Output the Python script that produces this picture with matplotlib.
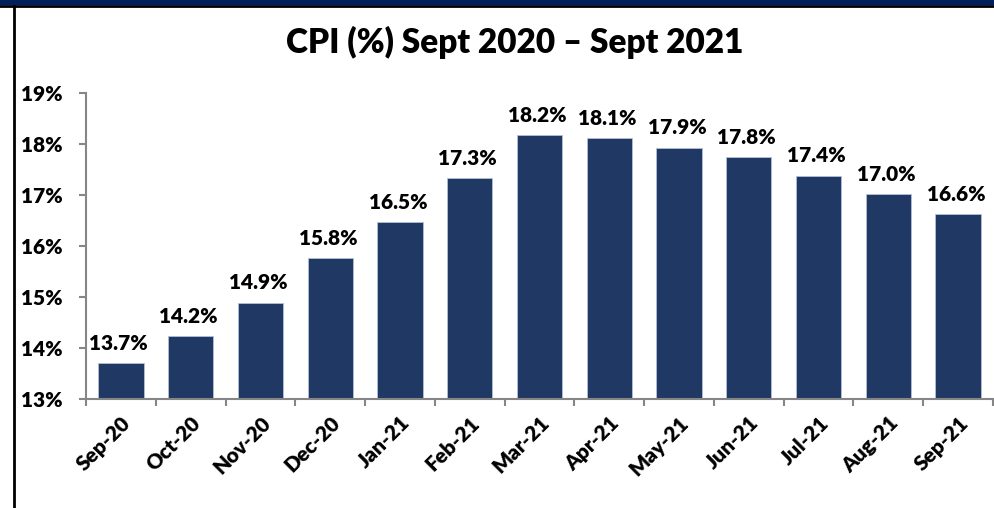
import matplotlib.pyplot as plt
from matplotlib.patches import Rectangle
from matplotlib.lines import Line2D
import numpy as np

months = ["Sep-20", "Oct-20", "Nov-20", "Dec-20", "Jan-21", "Feb-21", "Mar-21",
          "Apr-21", "May-21", "Jun-21", "Jul-21", "Aug-21", "Sep-21"]
cpi = [13.71, 14.23, 14.89, 15.76, 16.47, 17.33, 18.18,
       18.12, 17.93, 17.75, 17.38, 17.01, 16.63]
cpi_labels = ["13.7%", "14.2%", "14.9%", "15.8%", "16.5%", "17.3%", "18.2%",
              "18.1%", "17.9%", "17.8%", "17.4%", "17.0%", "16.6%"]
yticks = [13, 14, 15, 16, 17, 18, 19]

plt.rcParams['font.family'] = ['Lato', 'DejaVu Sans']
plt.rcParams['font.weight'] = 'bold'

W, H = 995, 508
fig = plt.figure(figsize=(W / 100, H / 100), dpi=100)
fig.patch.set_facecolor('white')

# frame bits
fig.patches.append(Rectangle((0, 1 - 5 / H), 1, 5 / H, transform=fig.transFigure,
                             facecolor='#001F5F', edgecolor='none'))
fig.lines.append(Line2D([0, 1], [1 - 6 / H, 1 - 6 / H], transform=fig.transFigure,
                        color='black', lw=2))
fig.lines.append(Line2D([14 / W, 14 / W], [0, 1 - 6 / H], transform=fig.transFigure,
                        color='black', lw=2))

ax = fig.add_axes([86 / W, 1 - 399 / H, (993 - 86) / W, (399 - 93) / H])
x = np.arange(len(months))
ax.bar(x, np.array(cpi) - 13, bottom=13, width=0.65, color='#203864',
       edgecolor='#B4C0D8', linewidth=0.6)
for xi, v, lab in zip(x, cpi, cpi_labels):
    ax.text(xi - 0.03, v + 0.2, lab, ha='center', va='bottom', fontsize=15,
            fontweight='heavy', color='black')

ax.set_xlim(-0.5, len(months) - 0.5)
ax.set_ylim(13, 19)
ax.set_yticks(yticks)
ax.set_yticklabels([f"{t}%" for t in yticks], fontsize=15, fontweight='heavy')
ax.set_xticks(np.arange(len(months) + 1) - 0.5)
ax.set_xticklabels([])
ax.set_xticks(x, minor=True)
ax.set_xticklabels(months, minor=True, rotation=45, ha='right', rotation_mode='anchor',
                   fontsize=15, fontweight='heavy')
ax.tick_params(axis='x', which='minor', length=0, pad=10)
ax.tick_params(axis='x', which='major', length=5, color='#868686', width=1.5)
ax.tick_params(axis='y', length=5, color='#868686', width=1.5, pad=12)
for s in ['top', 'right']:
    ax.spines[s].set_visible(False)
for s in ['left', 'bottom']:
    ax.spines[s].set_color('#868686')
    ax.spines[s].set_linewidth(1.5)

fig.text(515 / W, 1 - 42 / H, "CPI (%) Sept 2020 – Sept 2021", ha='center', va='center',
         fontsize=24, fontweight='heavy', color='black')

fig.savefig('out.png', dpi=100)
